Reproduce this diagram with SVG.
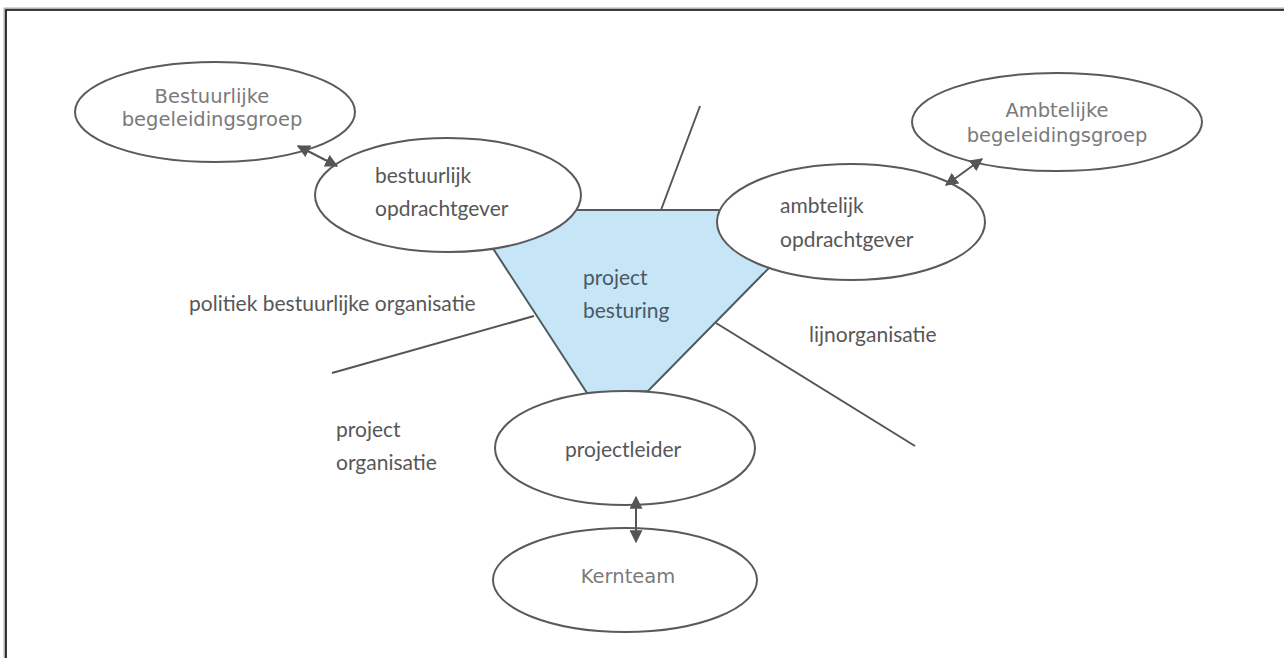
<svg xmlns="http://www.w3.org/2000/svg" width="1284" height="658" viewBox="0 0 1284 658">
<defs>
<style>
.ell{fill:#fff;stroke:#5a5a5a;stroke-width:2}
.ln{stroke:#555;stroke-width:2;fill:none}
.v{font-family:"DejaVu Sans",Verdana,sans-serif;font-size:19.5px;fill:#7a7a7a;text-anchor:middle}
.h{font-family:Lato,"Open Sans",sans-serif;font-size:21px;fill:#575757}
.c{stroke:#555;stroke-width:2;fill:none;marker-start:url(#ah);marker-end:url(#ah)}
</style>
<marker id="ah" viewBox="0 0 10 10" refX="9" refY="5" markerWidth="6.5" markerHeight="6.5" orient="auto-start-reverse" markerUnits="strokeWidth">
<path d="M0,0 L10,5 L0,10 z" fill="#555"/>
</marker>
</defs>
<rect width="1284" height="658" fill="#fff"/>
<path d="M5,658 V9 H1284" fill="none" stroke="#b0b0b0" stroke-width="3"/>
<path d="M6,658 V10 H1284" fill="none" stroke="#111" stroke-width="1.6"/>

<g id="lines">
<line class="ln" x1="700" y1="106" x2="661" y2="210"/>
<line class="ln" x1="332" y1="373" x2="534" y2="316"/>
<line class="ln" x1="716" y1="323" x2="915" y2="446"/>
</g>

<g id="projectbesturing">
<polygon points="468,210 826,210 648,391 587,393" fill="#c6e6f8" stroke="#4f5b60" stroke-width="2"/>
<text class="h" x="583" y="285" style="fill:#4a5963">project</text>
<text class="h" x="583" y="318" style="fill:#4a5963">besturing</text>
</g>

<g id="bestuurlijke-begeleidingsgroep">
<ellipse class="ell" cx="215" cy="112" rx="140" ry="50"/>
<text class="v" x="212" y="103">Bestuurlijke</text>
<text class="v" x="212" y="126">begeleidingsgroep</text>
</g>

<g id="bestuurlijk-opdrachtgever">
<ellipse class="ell" cx="448" cy="195" rx="133" ry="57"/>
<text class="h" x="375" y="183">bestuurlijk</text>
<text class="h" x="375" y="216">opdrachtgever</text>
</g>

<g id="ambtelijke-begeleidingsgroep">
<ellipse class="ell" cx="1057" cy="122" rx="145" ry="49"/>
<text class="v" x="1057" y="117">Ambtelijke</text>
<text class="v" x="1057" y="142">begeleidingsgroep</text>
</g>

<g id="ambtelijk-opdrachtgever">
<ellipse class="ell" cx="851" cy="222" rx="134" ry="58"/>
<text class="h" x="780" y="213">ambtelijk</text>
<text class="h" x="780" y="247">opdrachtgever</text>
</g>

<g id="projectleider">
<ellipse class="ell" cx="625" cy="448" rx="130" ry="57"/>
<text class="h" x="565" y="457">projectleider</text>
</g>

<g id="kernteam">
<ellipse class="ell" cx="625" cy="580" rx="132" ry="52"/>
<text class="v" x="628" y="583">Kernteam</text>
</g>

<g id="labels">
<text class="h" x="189" y="311">politiek bestuurlijke organisatie</text>
<text class="h" x="809" y="342">lijnorganisatie</text>
<text class="h" x="336" y="437">project</text>
<text class="h" x="336" y="470">organisatie</text>
</g>

<g id="connectors">
<line class="c" x1="298" y1="146" x2="337" y2="166"/>
<line class="c" x1="946" y1="185" x2="982" y2="159"/>
<line class="c" x1="636" y1="497" x2="636" y2="542"/>
</g>
</svg>
